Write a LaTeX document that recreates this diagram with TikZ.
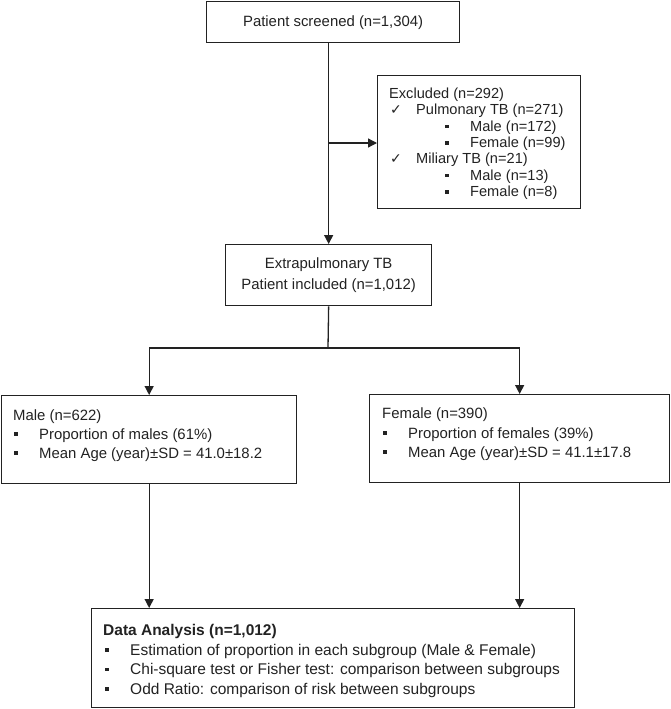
\documentclass[tikz,border=0pt]{standalone}
\usepackage{fontspec}
\setmainfont{Liberation Sans}
\newfontfamily\symfont{DejaVu Sans}
\usetikzlibrary{arrows.meta}
\definecolor{ink}{HTML}{222222}
\begin{document}
\begin{tikzpicture}[x=1pt,y=-1pt,
  box/.style={draw=ink, line width=1.3pt, inner sep=0pt, anchor=north west},
  line/.style={draw=ink, line width=1.3pt},
  arr/.style={line, -{Triangle[length=9pt,width=9pt]}},
  txt/.style={anchor=base west, inner sep=0pt, text=ink, font=\fontsize{14.9}{17}\selectfont},
  stxt/.style={txt, font=\fontsize{14.6}{17}\selectfont},
  dtxt/.style={txt, font=\fontsize{15.5}{17}\selectfont},
  ctxt/.style={inner sep=0pt, text=ink, align=center, font=\fontsize{14.9}{21.5}\selectfont},
  sq/.style={fill=ink, minimum size=3.8pt, inner sep=0pt},
  chk/.style={anchor=base, inner sep=0pt, text=ink, font=\symfont\fontsize{14}{14}\selectfont}
]
\useasboundingbox (0,0) rectangle (670,709);

% boxes
\node[box, minimum width=253pt, minimum height=41pt] (top) at (206,1) {};
\node[box, minimum width=203pt, minimum height=133pt] (excl) at (377,75) {};
\node[box, minimum width=206pt, minimum height=61pt] (extra) at (225,244) {};
\node[box, minimum width=295pt, minimum height=88pt] (male) at (1,395) {};
\node[box, minimum width=300pt, minimum height=88pt] (female) at (369,394) {};
\node[box, minimum width=483pt, minimum height=99pt] (data) at (91,608) {};

% texts
\node[ctxt] (toptext) at (top.center) {Patient screened (n=1,304)};
\node[ctxt] (extratext) at (extra.center) {Extrapulmonary TB\\Patient included (n=1,012)};

% excluded
\node[stxt] (ex0) at (389,98.5) {Excluded (n=292)};
\node[chk] (ck1) at (396,114.8) {✓};
\node[stxt] (ex1) at (416,114.8) {Pulmonary TB (n=271)};
\node[sq] (b1) at (447,126.5) {};
\node[stxt] (ex2) at (470,131.1) {Male (n=172)};
\node[sq] (b2) at (447,142.8) {};
\node[stxt] (ex3) at (470,147.4) {Female (n=99)};
\node[chk] (ck2) at (396,163.7) {✓};
\node[stxt] (ex4) at (416,163.7) {Miliary TB (n=21)};
\node[sq] (b3) at (447,175.4) {};
\node[stxt] (ex5) at (470,180.0) {Male (n=13)};
\node[sq] (b4) at (447,191.7) {};
\node[stxt] (ex6) at (470,196.3) {Female (n=8)};

% male
\node[txt] (m0) at (13,420) {Male (n=622)};
\node[sq] (mb1) at (16,434) {};
\node[txt] (m1) at (39,439) {Proportion of males (61\%)};
\node[sq] (mb2) at (16,453) {};
\node[txt] (m2) at (39,458) {Mean Age (year)±SD = 41.0±18.2};

% female
\node[txt] (f0) at (382,418) {Female (n=390)};
\node[sq] (fb1) at (385,433) {};
\node[txt] (f1) at (408,438) {Proportion of females (39\%)};
\node[sq] (fb2) at (385,452) {};
\node[txt] (f2) at (408,457) {Mean Age (year)±SD = 41.1±17.8};

% data analysis
\node[dtxt, font=\bfseries\fontsize{15.5}{17}\selectfont] (d0) at (103,635) {Data Analysis (n=1,012)};
\node[sq] (db1) at (107,650) {};
\node[dtxt] (d1) at (130,655) {Estimation of proportion in each subgroup (Male \& Female)};
\node[sq] (db2) at (107,669.5) {};
\node[dtxt] (d2) at (130,674.5) {Chi-square test or Fisher test: comparison between subgroups};
\node[sq] (db3) at (107,689) {};
\node[dtxt] (d3) at (130,694) {Odd Ratio: comparison of risk between subgroups};

% connectors
\coordinate (j1) at (328,143);
\coordinate (split) at (328,348);
\draw[arr] (top.south -| extra.north) -- (extra.north);
\draw[arr] (j1) -- (j1 -| excl.west);
\draw[line] (extra.south) -- (split);
\draw[arr] (split) -| (male.north);
\draw[arr] (split) -| (female.north);
\draw[arr] (male.south) -- (male.south |- data.north);
\draw[arr] (female.south) -- (female.south |- data.north);
\end{tikzpicture}
\end{document}
